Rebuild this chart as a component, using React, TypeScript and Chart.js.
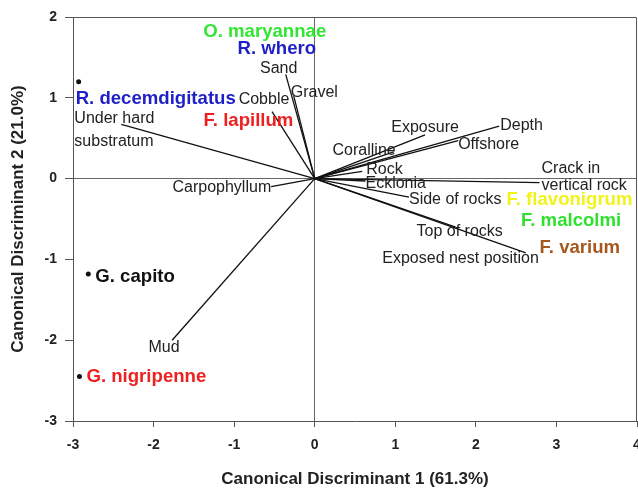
import React, { useEffect, useRef } from "react";
import { Chart, registerables } from "chart.js";

Chart.register(...registerables);

// ---- Data ----
const variableNames = [
  ["Sand"],
  ["Gravel"],
  ["Cobble"],
  ["Under hard", "substratum"],
  ["Carpophyllum"],
  ["Mud"],
  ["Exposure"],
  ["Depth"],
  ["Offshore"],
  ["Coralline"],
  ["Rock"],
  ["Ecklonia"],
  ["Crack in", "vertical rock"],
  ["Side of rocks"],
  ["Top of rocks"],
  ["Exposed nest position"],
];
const variableX = [-0.36, -0.26, -0.53, -2.4, -0.54, -1.77, 1.37, 2.29, 1.78, 0.98, 0.59, 0.63, 2.79, 1.17, 1.75, 2.62];
const variableY = [1.29, 1.02, 0.83, 0.67, -0.1, -2.0, 0.54, 0.65, 0.47, 0.33, 0.09, -0.03, -0.05, -0.23, -0.6, -0.92];

const speciesNames = [
  "R. decemdigitatus",
  "G. capito",
  "G. nigripenne",
  "O. maryannae",
  "R. whero",
  "F. lapillum",
  "F. flavonigrum",
  "F. malcolmi",
  "F. varium",
];
const speciesX = [-2.93, -2.81, -2.92, -0.62, -0.47, -1.38, 2.38, 2.56, 2.79];
const speciesY = [1.2, -1.18, -2.45, 1.81, 1.6, 0.71, -0.26, -0.52, -0.86];
const speciesMarked = [true, true, true, false, false, false, false, false, false];

const xTickValues = [-3, -2, -1, 0, 1, 2, 3, 4];
const yTickValues = [-3, -2, -1, 0, 1, 2];

// ---- Layout / style (not data) ----
const speciesColors = ["#1f1fc8", "#111111", "#ee2020", "#33e633", "#1f1fc8", "#ee2020", "#f2f21c", "#2fe02f", "#a5581e"];
// [align, dx, dy] in px relative to point
const speciesLabelLayout: [CanvasTextAlign, number, number][] = [
  ["left", -3, 17],
  ["left", 7, 3],
  ["left", 7, 0],
  ["center", 0, 0],
  ["center", 0, 0],
  ["left", 0, 0],
  ["left", 0, 0],
  ["left", 0, 0],
  ["left", 0, 0],
];
// [align, dx, dy, lineSpacing]
const variableLabelLayout: [CanvasTextAlign, number, number, number][] = [
  ["center", -7, -6, 0],
  ["left", -3, -4, 0],
  ["center", -8, -12, 0],
  ["left", -47, -6, 23],
  ["right", 0, 1, 0],
  ["center", -8, 7, 0],
  ["center", 0, -7, 0],
  ["left", 1, 0, 0],
  ["left", 0, 4, 0],
  ["right", 2, -1, 0],
  ["left", 4, -2, 0],
  ["left", 0, 3, 0],
  ["left", 2, -14, 17],
  ["left", 0, 2, 0],
  ["center", 4, 5, 0],
  ["right", 13, 6, 0],
];

const FONT = "'Liberation Sans', Arial, sans-serif";

const labelPlugin = {
  id: "biplotLabels",
  beforeDatasetsDraw(chart: any) {
    const { ctx, chartArea } = chart;
    ctx.save();
    ctx.strokeStyle = "#555";
    ctx.lineWidth = 1;
    ctx.beginPath();
    ctx.moveTo(chartArea.left, chartArea.top + 0.5);
    ctx.lineTo(chartArea.right - 0.5, chartArea.top + 0.5);
    ctx.lineTo(chartArea.right - 0.5, chartArea.bottom);
    ctx.stroke();
    ctx.restore();
  },
  afterDatasetsDraw(chart: any) {
    const { ctx } = chart;
    const xs = chart.scales.x;
    const ys = chart.scales.y;
    ctx.save();
    ctx.textBaseline = "middle";
    ctx.font = `16px ${FONT}`;
    ctx.fillStyle = "#222";
    variableNames.forEach((lines, i) => {
      const [align, dx, dy, sp] = variableLabelLayout[i];
      const px = xs.getPixelForValue(variableX[i]) + dx;
      const py = ys.getPixelForValue(variableY[i]) + dy;
      ctx.textAlign = align;
      lines.forEach((t, k) => ctx.fillText(t, px, py + k * sp));
    });
    ctx.font = `bold 18.6px ${FONT}`;
    speciesNames.forEach((name, i) => {
      const [align, dx, dy] = speciesLabelLayout[i];
      const px = xs.getPixelForValue(speciesX[i]) + dx;
      const py = ys.getPixelForValue(speciesY[i]) + dy;
      ctx.textAlign = align;
      ctx.fillStyle = speciesColors[i];
      ctx.fillText(name, px, py);
    });
    ctx.restore();
  },
};

const noPadding = () => ({ left: 0, right: 0, top: 0, bottom: 0 });

export default function App() {
  const ref = useRef<HTMLCanvasElement>(null);
  useEffect(() => {
    document.body.style.margin = "0";
    const vectorSets = variableNames.map((_, i) => ({
      data: [
        { x: 0, y: 0 },
        { x: variableX[i], y: variableY[i] },
      ],
      showLine: true,
      borderColor: "#111",
      borderWidth: 1.3,
      pointRadius: 0,
      pointHoverRadius: 0,
    }));
    const dots = {
      data: speciesX
        .map((x, i) => ({ x, y: speciesY[i] }))
        .filter((_, i) => speciesMarked[i]),
      pointRadius: 2.5,
      pointHoverRadius: 2.5,
      pointBackgroundColor: "#111",
      pointBorderWidth: 0,
      showLine: false,
    };
    const chart = new Chart(ref.current as HTMLCanvasElement, {
      type: "scatter",
      data: { datasets: [...vectorSets, dots] as any },
      plugins: [labelPlugin],
      options: {
        animation: false,
        responsive: false,
        events: [],
        layout: { autoPadding: false, padding: { top: 17, right: 1, left: 0, bottom: 0 } },
        plugins: { legend: { display: false }, tooltip: { enabled: false } },
        scales: {
          x: {
            type: "linear",
            min: -3,
            max: 4,
            afterBuildTicks: (s: any) => {
              s.ticks = xTickValues.map((v) => ({ value: v }));
            },
            afterFit: (s: any) => {
              s.height = 68;
              s.paddingLeft = 0;
              s.paddingRight = 0;
              s.getPadding = noPadding;
            },
            border: { color: "#555", width: 1 },
            grid: {
              color: (c: any) => (c.tick && c.tick.value === 0 ? "#666" : "rgba(0,0,0,0)"),
              tickColor: "#555",
              tickLength: 6,
            },
            ticks: {
              color: "#222",
              padding: 10,
              font: { family: FONT, weight: "bold", size: 14 },
              maxRotation: 0,
            },
            title: {
              display: true,
              text: "Canonical Discriminant 1 (61.3%)",
              color: "#222",
              font: { family: FONT, weight: "bold", size: 17, lineHeight: 1.1 },
              padding: { top: 0, bottom: 0 },
            },
          },
          y: {
            type: "linear",
            min: -3,
            max: 2,
            afterBuildTicks: (s: any) => {
              s.ticks = yTickValues.map((v) => ({ value: v }));
            },
            afterFit: (s: any) => {
              s.width = 73;
              s.paddingTop = 0;
              s.paddingBottom = 0;
              s.getPadding = noPadding;
            },
            border: { color: "#555", width: 1 },
            grid: {
              color: (c: any) => (c.tick && c.tick.value === 0 ? "#666" : "rgba(0,0,0,0)"),
              tickColor: "#555",
              tickLength: 8,
            },
            ticks: {
              color: "#222",
              padding: 8,
              font: { family: FONT, weight: "bold", size: 14 },
            },
            title: {
              display: true,
              text: "Canonical Discriminant 2 (21.0%)",
              color: "#222",
              font: { family: FONT, weight: "bold", size: 17 },
              padding: { top: 8, bottom: 0 },
            },
          },
        },
      } as any,
    });
    return () => chart.destroy();
  }, []);
  return (
    <div style={{ width: 638, height: 489, overflow: "hidden", background: "#fff" }}>
      <canvas ref={ref} width={638} height={489} style={{ display: "block" }} />
    </div>
  );
}
